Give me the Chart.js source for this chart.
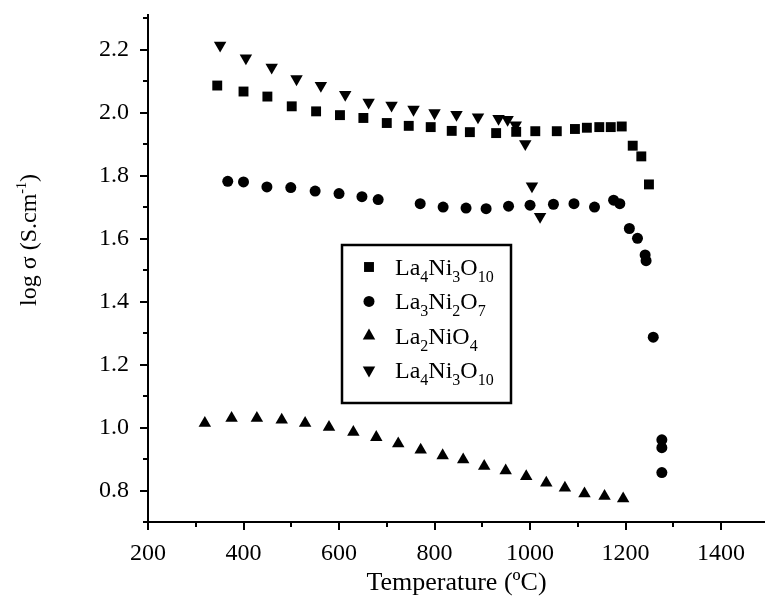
<!DOCTYPE html>
<html>
<head>
<meta charset="utf-8">
<script src="https://cdn.jsdelivr.net/npm/chart.js@4.4.0/dist/chart.umd.min.js"></script>
<style>
  html, body { margin: 0; padding: 0; background: #fff; }
</style>
</head>
<body>
<canvas id="myChart" width="765" height="601"></canvas>
<script>
const serif = '"Liberation Serif", "Times New Roman", serif'

// tick labels
const xTicks = [200, 400, 600, 800, 1000, 1200, 1400]
const yTicks = [0.8, 1.0, 1.2, 1.4, 1.6, 1.8, 2.0, 2.2]

// La4Ni3O10 (squares)
const sqT = [345, 400, 450, 501, 552, 602, 651, 700, 746, 792, 836, 874, 929, 971, 1011, 1056, 1094, 1119, 1145, 1169, 1192, 1215, 1233, 1249]
const sqS = [2.086, 2.067, 2.051, 2.020, 2.004, 1.992, 1.983, 1.967, 1.958, 1.954, 1.942, 1.938, 1.935, 1.939, 1.941, 1.941, 1.948, 1.952, 1.954, 1.954, 1.956, 1.895, 1.861, 1.772]

// La3Ni2O7 (circles)
const ciT = [367, 400, 449, 499, 550, 600, 648, 682, 770, 818, 866, 908, 955, 1000, 1049, 1092, 1135, 1175, 1188, 1208, 1225, 1241, 1243, 1258, 1276, 1276, 1276]
const ciS = [1.782, 1.780, 1.764, 1.762, 1.751, 1.743, 1.733, 1.724, 1.711, 1.700, 1.697, 1.695, 1.703, 1.706, 1.709, 1.711, 1.700, 1.722, 1.711, 1.632, 1.601, 1.548, 1.530, 1.287, 0.961, 0.936, 0.857]

// La2NiO4 (triangles up)
const upT = [319, 375, 428, 480, 529, 579, 630, 678, 724, 771, 817, 860, 904, 949, 992, 1034, 1073, 1114, 1156, 1195]
const upS = [1.014, 1.030, 1.030, 1.024, 1.014, 1.001, 0.985, 0.969, 0.949, 0.929, 0.911, 0.898, 0.877, 0.863, 0.845, 0.824, 0.808, 0.790, 0.782, 0.774]

// La4Ni3O10 (triangles down)
const dnT = [351, 405, 459, 511, 562, 613, 662, 710, 756, 800, 846, 891, 934, 953, 970, 990, 1004, 1021]
const dnS = [2.214, 2.173, 2.144, 2.107, 2.086, 2.057, 2.033, 2.023, 2.010, 1.999, 1.994, 1.986, 1.981, 1.978, 1.960, 1.901, 1.767, 1.670]

// legend text, [text, isSubscript]
const names = [
  [['La', 0], ['4', 1], ['Ni', 0], ['3', 1], ['O', 0], ['10', 1]],
  [['La', 0], ['3', 1], ['Ni', 0], ['2', 1], ['O', 0], ['7', 1]],
  [['La', 0], ['2', 1], ['NiO', 0], ['4', 1]],
  [['La', 0], ['4', 1], ['Ni', 0], ['3', 1], ['O', 0], ['10', 1]]
]

function pts(xs, ys) {
  return xs.map((x, i) => ({x: x, y: ys[i]}))
}

function ds(data, style, r, rot) {
  return {
    data: data,
    showLine: false,
    pointStyle: style,
    pointRadius: r,
    pointHoverRadius: r,
    pointRotation: rot,
    pointBackgroundColor: '#000',
    pointBorderColor: '#000',
    pointBorderWidth: 0
  }
}

// tick marks, major and minor, drawn on the library scales
const tickMarks = {
  id: 'tickMarks',
  afterDraw(chart) {
    const ctx = chart.ctx
    const xs = chart.scales.x, ys = chart.scales.y
    ctx.save()
    ctx.strokeStyle = '#000'
    ctx.lineWidth = 2
    ctx.beginPath()
    for (let v = 200; v <= xs.max; v += 100) {
      const px = Math.round(xs.getPixelForValue(v))
      const len = xTicks.includes(v) ? 8 : 5
      ctx.moveTo(px, xs.top)
      ctx.lineTo(px, xs.top + len)
    }
    for (let k = 7; k <= 23; k++) {
      const v = k / 10
      if (v > ys.max) break
      const py = Math.round(ys.getPixelForValue(v))
      const len = (k % 2 == 0) ? 8 : 5
      ctx.moveTo(ys.right, py)
      ctx.lineTo(ys.right - len, py)
    }
    ctx.stroke()
    ctx.restore()
  }
}

function drawRuns(ctx, runs, x, y, big, small, subDy) {
  runs.forEach(r => {
    ctx.font = (r[1] ? small : big) + 'px ' + serif
    ctx.fillText(r[0], x, y + (r[1] ? subDy : 0))
    x += ctx.measureText(r[0]).width
  })
  return x
}

const boxLegend = {
  id: 'boxLegend',
  afterDraw(chart) {
    const ctx = chart.ctx
    ctx.save()
    ctx.strokeStyle = '#000'
    ctx.lineWidth = 2.5
    ctx.strokeRect(342, 245, 169, 158)
    ctx.fillStyle = '#000'
    ctx.textBaseline = 'alphabetic'
    chart.data.datasets.forEach((d, i) => {
      const y = 267 + i * 34.4
      Chart.helpers.drawPoint(ctx, {
        pointStyle: d.pointStyle, radius: d.pointRadius,
        rotation: d.pointRotation || 0, borderWidth: 0
      }, 369, y)
      drawRuns(ctx, names[i], 395, y + 8, 24, 16, 7)
    })
    // y axis title
    ctx.translate(36, 240)
    ctx.rotate(-Math.PI / 2)
    const runs = [['log σ (S.cm', 0], ['-1', 2], [')', 0]]
    let w = 0
    runs.forEach(r => {
      ctx.font = (r[1] ? 14 : 24) + 'px ' + serif
      w += ctx.measureText(r[0]).width
    })
    let x = -w / 2
    runs.forEach(r => {
      ctx.font = (r[1] ? 14 : 24) + 'px ' + serif
      ctx.fillText(r[0], x, r[1] ? -10 : 0)
      x += ctx.measureText(r[0]).width
    })
    ctx.restore()
  }
}

const config = {
  type: 'scatter',
  data: {
    datasets: [
      ds(pts(sqT, sqS), 'rect', 7, 0),
      ds(pts(ciT, ciS), 'circle', 5.5, 0),
      ds(pts(upT, upS), 'triangle', 7.2, 0),
      ds(pts(dnT, dnS), 'triangle', 7.2, 180)
    ]
  },
  options: {
    responsive: false,
    animation: false,
    layout: { autoPadding: false, padding: { top: 15, right: 0, left: 0, bottom: 0 } },
    plugins: {
      legend: { display: false },
      tooltip: { enabled: false }
    },
    scales: {
      x: {
        type: 'linear',
        min: 200,
        max: 1492,
        afterBuildTicks: (scale) => { scale.ticks = xTicks.map(v => ({value: v})) },
        afterFit: (scale) => {
          scale.height = 79
          scale.paddingLeft = 0
          scale.paddingRight = 0
        },
        grid: { display: false, drawTicks: false },
        border: { display: true, color: '#000', width: 2 },
        ticks: {
          color: '#000',
          padding: 17,
          maxRotation: 0,
          font: { family: serif, size: 24 },
          callback: (v) => String(v)
        },
        title: {
          display: true,
          text: 'Temperature (ºC)',
          color: '#000',
          font: { family: serif, size: 26 },
          padding: { top: 0, bottom: 2 }
        }
      },
      y: {
        type: 'linear',
        min: 0.7,
        max: 2.31,
        afterBuildTicks: (scale) => { scale.ticks = yTicks.map(v => ({value: v})) },
        afterFit: (scale) => {
          scale.width = 148
          scale.paddingTop = 0
          scale.paddingBottom = 0
        },
        grid: { display: false, drawTicks: false },
        border: { display: true, color: '#000', width: 2 },
        ticks: {
          color: '#000',
          padding: 19,
          font: { family: serif, size: 24 },
          callback: (v) => Number(v).toFixed(1)
        }
      }
    }
  },
  plugins: [tickMarks, boxLegend]
}

const chart = document.getElementById('myChart')
var myChart = new Chart(chart, config)
</script>
</body>
</html>
